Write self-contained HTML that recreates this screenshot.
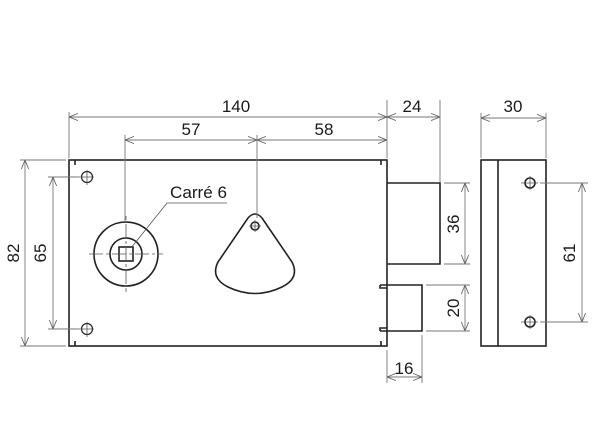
<!DOCTYPE html>
<html><head><meta charset="utf-8"><style>
html,body{margin:0;padding:0;background:#fff}
svg{display:block}
text{font-family:"Liberation Sans",sans-serif;font-size:17px;fill:#1a1a1a}
.o{stroke:#222;stroke-width:1.6;fill:none}
.d{stroke:#777;stroke-width:0.9;fill:none}
.c{stroke:#555;stroke-width:0.8;fill:none}
</style></head><body>
<svg width="600" height="444" viewBox="0 0 600 444" xmlns="http://www.w3.org/2000/svg">
<defs>
<marker id="a" viewBox="0 0 10 10" refX="10" refY="5" markerWidth="9" markerHeight="9" orient="auto-start-reverse" markerUnits="userSpaceOnUse">
<path d="M0,1 L10,5 L0,9" fill="none" stroke="#666" stroke-width="1"/>
</marker>
</defs>
<rect x="69" y="160" width="318" height="186" class="o"/>
<path d="M75 160v5M381 160v5M75 346v-5M381 346v-5" class="o" stroke-width="1.2"/>
<g class="c">
<circle cx="87" cy="177" r="5.5" stroke="#222" stroke-width="1.2"/>
<path d="M78 177h16M87 170v15"/>
<circle cx="87" cy="329" r="5.5" stroke="#222" stroke-width="1.2"/>
<path d="M78 329h16M87 322v15"/>
</g>
<circle cx="126" cy="254" r="32" class="o" stroke-width="1.3"/>
<circle cx="126" cy="254" r="16" class="o" stroke-width="1.6"/>
<rect x="119" y="247" width="14" height="14" class="o" stroke-width="1.3"/>
<path d="M89 254h74M126 216v4M126 224v60M126 288v4" class="c" stroke-dasharray="14 3 3 3"/>
<text x="170" y="198" textLength="57" lengthAdjust="spacingAndGlyphs">Carré 6</text>
<path d="M167 203h60M167 203L131 248" class="c"/>
<path d="M248 218 Q255 210 262 218 L292 262 Q300 278 282 287 Q255 300 228 287 Q210 278 218 262 Z" class="o" stroke-width="1.3"/>
<circle cx="255" cy="226" r="4" class="o" stroke-width="1.1"/>
<path d="M249 226h12M255 220v12" class="c"/>
<path d="M387 183H440V264H387" class="o"/>
<path d="M380 285H422V331H380M380 285v3h7M380 331v-3h7" class="o" stroke-width="1.4"/>
<rect x="481" y="160" width="65" height="186" class="o" stroke-width="1.4"/>
<path d="M498 160V346" class="o" stroke-width="1.2"/>
<circle cx="530" cy="183" r="5" class="o" stroke-width="1.1"/>
<circle cx="530" cy="322" r="5" class="o" stroke-width="1.1"/>
<path d="M521 183h17M530 176v14M521 322h17M530 315v14" class="c"/>
<g class="d">
<path d="M69 112V158M387 100V158M440 100V182M125 135V222M257 135V218"/>
<path d="M481 113V158M546 113V158"/>
<path d="M20 160H66M20 346H66M48 177H78M48 329H78"/>
<path d="M444 183H470M444 264H470M426 285H470M426 331H470"/>
<path d="M387 350V383M422 335V383"/>
<path d="M540 183H588M540 322H588"/>
</g>
<g class="d" marker-start="url(#a)" marker-end="url(#a)">
<path d="M69 117H387"/>
<path d="M387 117H440"/>
<path d="M125 140H257"/>
<path d="M257 140H387"/>
<path d="M481 118H546"/>
<path d="M25 160V346"/>
<path d="M53 177V329"/>
<path d="M465 183V264"/>
<path d="M465 285V331"/>
<path d="M387 377H422"/>
<path d="M582 183V322"/>
</g>
<g text-anchor="middle">
<text x="236" y="112">140</text>
<text x="412" y="112">24</text>
<text x="191" y="135">57</text>
<text x="324" y="135">58</text>
<text x="513" y="112">30</text>
<text x="404" y="374">16</text>
<text transform="translate(19,253) rotate(-90)">82</text>
<text transform="translate(46,253) rotate(-90)">65</text>
<text transform="translate(459,224) rotate(-90)">36</text>
<text transform="translate(459,308) rotate(-90)">20</text>
<text transform="translate(575,253) rotate(-90)">61</text>
</g>
</svg>
</body></html>
